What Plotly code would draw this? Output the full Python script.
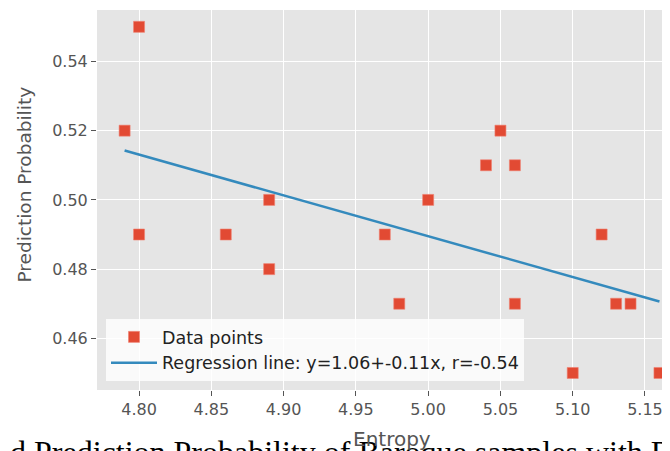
import numpy as np
import plotly.graph_objects as go

# Data
entropy = [4.79, 4.80, 4.80, 4.86, 4.89, 4.89, 4.97, 4.98, 5.00, 5.04, 5.05, 5.06, 5.06, 5.10, 5.12, 5.13, 5.14, 5.16]
prob = [0.52, 0.55, 0.49, 0.49, 0.50, 0.48, 0.49, 0.47, 0.50, 0.51, 0.52, 0.51, 0.47, 0.45, 0.49, 0.47, 0.47, 0.45]
x_ticks = [4.80, 4.85, 4.90, 4.95, 5.00, 5.05, 5.10, 5.15]
y_ticks = [0.46, 0.48, 0.50, 0.52, 0.54]
fit_label = "Regression line: y=1.06+-0.11x, r=-0.54"
caption = "d Prediction Probability of Baroque samples with Re"

slope, intercept = np.polyfit(entropy, prob, 1)
fit_y = [slope * v + intercept for v in entropy]

OFF = 8  # page body margin
W, H = 670 - OFF, 451 - OFF
L, R, T = 97 - OFF, 0, 10 - OFF
B = H - T - 380
pw, ph = W - L - R, H - T - B

def px_x(p):
    return (p - OFF - L) / pw

def px_y(p):
    return (H - B - (p - OFF)) / ph

fig = go.Figure()
fig.add_trace(go.Scatter(
    x=entropy, y=prob, mode="markers", name="Data points",
    marker=dict(symbol="square", size=11, color="#E24A33",
                line=dict(width=0.6, color="#F08070")),
))
fig.add_trace(go.Scatter(
    x=entropy, y=fit_y, mode="lines", name=fit_label,
    line=dict(color="#348ABD", width=2.5),
))

axis_common = dict(
    showgrid=True, gridcolor="white", gridwidth=1.3,
    zeroline=False, showline=False,
    ticks="outside", ticklen=5, tickwidth=1, tickcolor="#555555",
    tickfont=dict(family="DejaVu Sans", size=16, color="#555555"),
)

fig.update_layout(
    width=W, height=H,
    margin=dict(l=L, r=R, t=T, b=B, pad=0),
    paper_bgcolor="white", plot_bgcolor="#E5E5E5",
    xaxis=dict(range=[4.7709, 5.1673], tickvals=x_ticks,
               ticktext=[f"{v:.2f}" for v in x_ticks], **axis_common),
    yaxis=dict(range=[0.44508, 0.55486], tickvals=y_ticks,
               ticktext=[f"{v:.2f}" for v in y_ticks], **axis_common),
    showlegend=True,
    legend=dict(
        x=px_x(106), y=px_y(381), xanchor="left", yanchor="bottom",
        bgcolor="rgba(255,255,255,0.8)", borderwidth=0,
        font=dict(family="DejaVu Sans", size=17.5, color="#222222"),
        itemwidth=46, tracegroupgap=0,
    ),
    annotations=[
        dict(text=caption, xref="paper", yref="paper",
             x=px_x(8), y=px_y(452), xanchor="left", yanchor="middle",
             showarrow=False,
             font=dict(family="Liberation Serif", size=32, color="black")),
        dict(text="Entropy", xref="x", yref="paper",
             x=4.975, y=px_y(439), xanchor="center", yanchor="middle",
             showarrow=False,
             font=dict(family="DejaVu Sans", size=20, color="#555555")),
        dict(text="Prediction Probability", xref="paper", yref="paper",
             x=px_x(23.5), y=px_y(185), xanchor="center", yanchor="middle",
             textangle=-90, showarrow=False,
             font=dict(family="DejaVu Sans", size=18.5, color="#555555")),
    ],
)

fig.write_html("out.html")
